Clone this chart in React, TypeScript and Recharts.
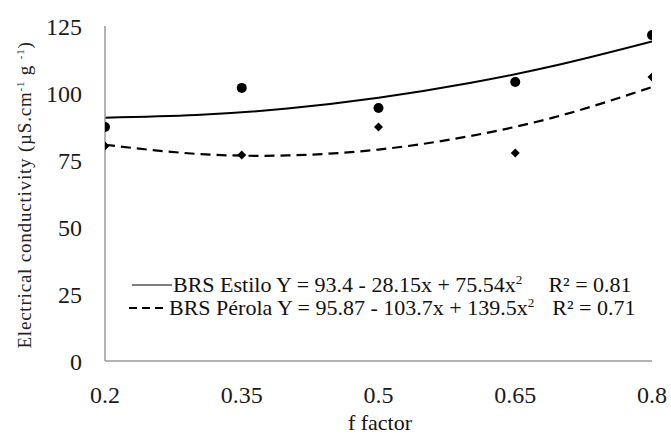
import React from 'react';
import { ComposedChart, Line, Scatter, XAxis, YAxis } from 'recharts';

// f factor levels and observed means
const fFactor = [0.2, 0.35, 0.5, 0.65, 0.8];
const estiloObserved = [87.3, 101.9, 94.4, 104.1, 121.6];
const perolaObserved = [80.2, 76.9, 87.3, 77.6, 106.0];

// fitted curves
const fitX = [0.2, 0.3, 0.4, 0.5, 0.6, 0.7, 0.8];
const estiloFit = [90.8, 91.8, 94.2, 98.2, 103.7, 110.7, 119.2];
const perolaFit = [80.7, 77.3, 76.7, 78.9, 83.9, 91.6, 102.2];

const yTicks = [0, 25, 50, 75, 100, 125];

const FONT = "'Liberation Serif', Tinos, 'DejaVu Serif', serif";

const toPoints = (xs: number[], ys: number[]) => xs.map((x, i) => ({ x, y: ys[i] }));

const DotShape = (props: any) => <circle cx={props.cx} cy={props.cy} r={5} fill="#000" />;

const DiamondShape = (props: any) => {
  const { cx, cy } = props;
  const s = 4.5;
  return <polygon points={`${cx},${cy - s} ${cx + s},${cy} ${cx},${cy + s} ${cx - s},${cy}`} fill="#000" />;
};

const sup: React.CSSProperties = { fontSize: '0.6em', verticalAlign: 'super', lineHeight: 0 };

const Legend = () => (
  <div style={{ position: 'absolute', left: 129, top: 273, fontSize: 22, lineHeight: '23px', color: '#111', whiteSpace: 'nowrap', fontFamily: FONT }}>
    <div style={{ display: 'flex', alignItems: 'center', height: 23 }}>
      <svg width={40} height={23} style={{ marginLeft: 3, marginRight: 1 }}>
        <line x1={0} x2={40} y1={12} y2={12} stroke="#000" strokeWidth={1.2} />
      </svg>
      <span>
        BRS Estilo Y = 93.4 - 28.15x + 75.54x<span style={sup}>2</span>
        <span style={{ marginLeft: 26 }}>R² = 0.81</span>
      </span>
    </div>
    <div style={{ display: 'flex', alignItems: 'center', height: 23 }}>
      <svg width={36} height={23} style={{ marginRight: 4 }}>
        <line x1={0} x2={36} y1={12} y2={12} stroke="#000" strokeWidth={2.2} strokeDasharray="8 5" />
      </svg>
      <span>
        BRS Pérola Y = 95.87 - 103.7x + 139.5x<span style={sup}>2</span>
        <span style={{ marginLeft: 18 }}>R² = 0.71</span>
      </span>
    </div>
  </div>
);

const YTitle = () => (
  <svg width={60} height={434} style={{ position: 'absolute', left: 0, top: 0 }}>
    <text transform="translate(31,195) rotate(-90)" textAnchor="middle" fontSize={19} letterSpacing={0.8} fill="#222" fontFamily={FONT}>
      Electrical conductivity (µS.cm
      <tspan fontSize={11} dy={-7}>-1</tspan>
      <tspan dy={7}> g </tspan>
      <tspan fontSize={11} dy={-7}>-1</tspan>
      <tspan dy={7}>)</tspan>
    </text>
  </svg>
);

export default function App() {
  return (
    <div style={{ position: 'absolute', left: 0, top: 0, width: 671, height: 434, background: '#fff', fontFamily: FONT }}>
      <ComposedChart width={671} height={434} margin={{ top: 26, right: 19, left: 25, bottom: 33 }} style={{ fontFamily: FONT }}>
        <XAxis
          type="number"
          dataKey="x"
          domain={[0.2, 0.8]}
          ticks={fFactor}
          allowDataOverflow
          height={40}
          tickSize={0}
          tickMargin={25}
          tickLine={false}
          axisLine={{ stroke: '#9a9a9a', strokeWidth: 1.5 }}
          tick={{ fill: '#1a1a1a', fontSize: 24, fontFamily: FONT }}
        />
        <YAxis
          type="number"
          dataKey="y"
          domain={[0, 125]}
          ticks={yTicks}
          width={80}
          tickSize={0}
          tickMargin={23}
          tickLine={false}
          axisLine={{ stroke: '#9a9a9a', strokeWidth: 1.5 }}
          tick={{ fill: '#1a1a1a', fontSize: 24, fontFamily: FONT }}
        />
        <Line data={toPoints(fitX, estiloFit)} dataKey="y" type="natural" stroke="#000" strokeWidth={2} dot={false} activeDot={false} isAnimationActive={false} />
        <Line data={toPoints(fitX, perolaFit)} dataKey="y" type="natural" stroke="#000" strokeWidth={2.2} strokeDasharray="10 6" dot={false} activeDot={false} isAnimationActive={false} />
        <Scatter data={toPoints(fFactor, estiloObserved)} dataKey="y" shape={DotShape} isAnimationActive={false} />
        <Scatter data={toPoints(fFactor, perolaObserved)} dataKey="y" shape={DiamondShape} isAnimationActive={false} />
      </ComposedChart>
      <Legend />
      <YTitle />
      <div style={{ position: 'absolute', left: 320, top: 413, width: 120, textAlign: 'center', fontSize: 22, lineHeight: '20px', color: '#111', fontFamily: FONT }}>
        f factor
      </div>
    </div>
  );
}
